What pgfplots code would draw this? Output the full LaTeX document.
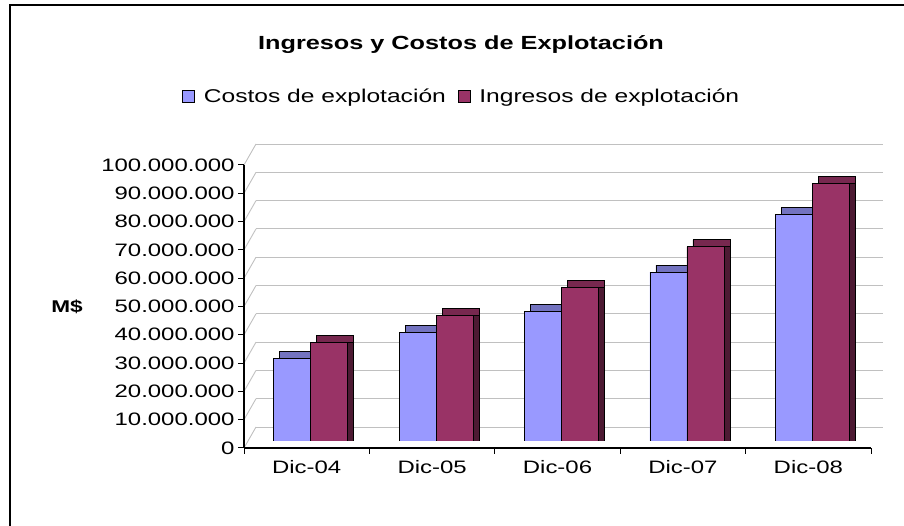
\documentclass[border=0pt]{standalone}
\usepackage{pgfplots}
\pgfplotsset{compat=1.18}
\usepackage{pgfplotstable}
\usepackage{fontspec}
\setmainfont{Liberation Sans}[FakeStretch=1.33]
\definecolor{costc}{HTML}{9999FF}
\definecolor{costtop}{HTML}{7373C0}
\definecolor{costside}{HTML}{4D4D80}
\definecolor{ingc}{HTML}{993366}
\definecolor{ingtop}{HTML}{77284F}
\definecolor{ingside}{HTML}{4D1A33}
\definecolor{gridc}{HTML}{C0C0C0}
\pgfplotstableread{
x cost ing
0 29200000 34900000
1 38300000 44300000
2 45900000 54400000
3 59700000 68600000
4 79900000 90900000
}\datatab
\begin{document}
\begin{tikzpicture}
\useasboundingbox (0bp,0bp) rectangle (904bp,526bp);
\draw[line width=2bp] (10bp,-2bp) -- (10bp,521bp) -- (906bp,521bp);
% back wall grid
\begin{axis}[at={(256bp,99bp)},anchor=south west,scale only axis,
  width=627bp,height=283bp,xmin=0,xmax=1,ymin=0,ymax=100000000,
  ytick distance=10000000, xtick=\empty, yticklabels={}, major tick length=0,
  scaled y ticks=false,
  ymajorgrids, grid style={draw=gridc,line width=0.9bp},
  axis line style={draw=none}]
\end{axis}
\foreach \i in {0,...,10}{
  \draw[draw=gridc,line width=0.9bp] (244bp,78bp+28.3bp*\i) -- ++(12bp,21bp);
}
% front axis
\begin{axis}[at={(244bp,78bp)},anchor=south west,scale only axis,
  width=627bp,height=283bp,xmin=-0.5,xmax=4.5,ymin=0,ymax=100000000,
  axis lines*=left, axis line style={black,line width=1.3bp},
  ytick distance=10000000, scaled y ticks=false,
  yticklabel style={/pgf/number format/.cd,fixed,1000 sep={.},assume math mode=true},
  tick label style={font=\fontsize{18bp}{20bp}\selectfont},
  xtick={0,1,2,3,4}, xticklabels={Dic-04,Dic-05,Dic-06,Dic-07,Dic-08},
  minor xtick={-0.5,0.5,1.5,2.5,3.5,4.5},
  tick align=outside, major tick length=6bp, minor tick length=6bp,
  major x tick style={draw=none},
  tick style={black,line width=1bp}, minor tick style={black,line width=1bp},
  xticklabel style={yshift=-3bp}]
\end{axis}
% bars
\begin{axis}[at={(248bp,85bp)},anchor=south west,scale only axis,
  width=627bp,height=283bp,xmin=-0.5,xmax=4.5,ymin=0,ymax=100000000,
  hide axis, ybar, bar width=37bp,
  legend columns=2,
  legend style={at={(0.341,1.219)},anchor=center,draw=none,fill=none,
    font=\fontsize{18.5bp}{20bp}\selectfont,
    /tikz/every even column/.append style={column sep=10bp}},
  legend image code/.code={\draw[#1,draw=black,line width=0.8bp] (0bp,-6bp) rectangle (12bp,6bp);
    \path[draw=none,fill=none] (0bp,0bp) -- (19bp,0bp);}]
\addplot[forget plot,fill=costtop,draw=black,line width=0.8bp,bar shift=-18.5bp,xshift=6bp,yshift=7bp] table[x=x,y=cost]{\datatab};
\addplot[forget plot,fill=ingtop,draw=black,line width=0.8bp,bar shift=18.5bp,xshift=6bp,yshift=7bp] table[x=x,y=ing]{\datatab};
\addplot[forget plot,fill=costside,draw=black,line width=0.8bp,bar shift=-18.5bp,xshift=6bp] table[x=x,y=cost]{\datatab};
\addplot[forget plot,fill=ingside,draw=black,line width=0.8bp,bar shift=18.5bp,xshift=6bp] table[x=x,y=ing]{\datatab};
\addplot[fill=costc,draw=black,line width=0.8bp,bar shift=-18.5bp] table[x=x,y=cost]{\datatab};
\addlegendentry{Costos de explotación}
\addplot[fill=ingc,draw=black,line width=0.8bp,bar shift=18.5bp] table[x=x,y=ing]{\datatab};
\addlegendentry{Ingresos de explotación}
\end{axis}
\node[font=\bfseries\fontsize{19bp}{21bp}\selectfont] at (461bp,481bp) {Ingresos y Costos de Explotación};
\node[font=\bfseries\fontsize{17bp}{19bp}\selectfont] at (67bp,219bp) {M\$};
\end{tikzpicture}
\end{document}
